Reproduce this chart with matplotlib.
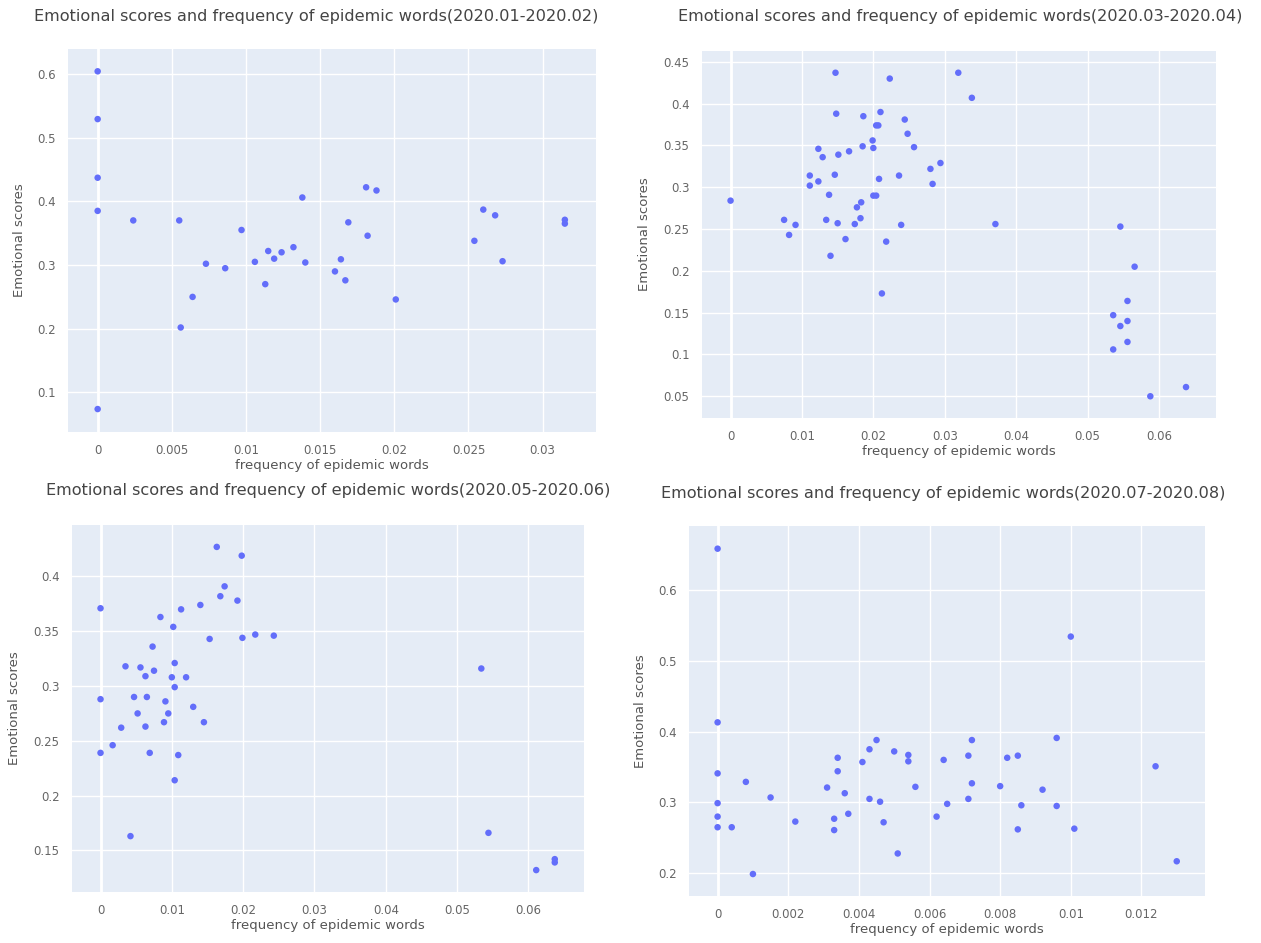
#!/usr/bin/env python
#+++ Imports
import matplotlib
matplotlib.use("Agg")
import matplotlib.pyplot as plt
from matplotlib.ticker import FuncFormatter
import numpy as np
#---

#+++ Data
titles = [
    "Emotional scores and frequency of epidemic words(2020.01-2020.02)",
    "Emotional scores and frequency of epidemic words(2020.03-2020.04)",
    "Emotional scores and frequency of epidemic words(2020.05-2020.06)",
    "Emotional scores and frequency of epidemic words(2020.07-2020.08)",
]

freq_jan_feb = [0, 0, 0, 0, 0, 0.0024, 0.0055, 0.0056, 0.0064, 0.0073, 0.0086, 0.0097,
                0.0106, 0.0113, 0.0115, 0.0119, 0.0124, 0.0132, 0.0138, 0.0140, 0.0181,
                0.0188, 0.0169, 0.0182, 0.0164, 0.0160, 0.0167, 0.0201, 0.0260, 0.0268,
                0.0254, 0.0273, 0.0315, 0.0315]
score_jan_feb = [0.604, 0.529, 0.437, 0.385, 0.074, 0.370, 0.370, 0.202, 0.250, 0.302, 0.295, 0.355,
                 0.305, 0.270, 0.322, 0.310, 0.320, 0.328, 0.406, 0.304, 0.422,
                 0.417, 0.367, 0.346, 0.309, 0.290, 0.276, 0.246, 0.387, 0.378,
                 0.338, 0.306, 0.371, 0.365]

freq_mar_apr = [0, 0.0075, 0.0082, 0.0091, 0.0111, 0.0111, 0.0123, 0.0123, 0.0129, 0.0138,
                0.0134, 0.0140, 0.0147, 0.0148, 0.0151, 0.0146, 0.0150, 0.0161, 0.0166, 0.0174,
                0.0177, 0.0183, 0.0182, 0.0186, 0.0185, 0.0199, 0.0200, 0.0200, 0.0204, 0.0204,
                0.0207, 0.0210, 0.0208, 0.0212, 0.0223, 0.0218, 0.0236, 0.0239, 0.0244, 0.0248,
                0.0257, 0.0280, 0.0283, 0.0294, 0.0319, 0.0338, 0.0371, 0.0546, 0.0566, 0.0556,
                0.0536, 0.0556, 0.0546, 0.0556, 0.0536, 0.0588, 0.0638]
score_mar_apr = [0.284, 0.261, 0.243, 0.255, 0.314, 0.302, 0.346, 0.307, 0.336, 0.291,
                 0.261, 0.218, 0.437, 0.388, 0.339, 0.315, 0.257, 0.238, 0.343, 0.256,
                 0.276, 0.282, 0.263, 0.385, 0.349, 0.356, 0.347, 0.290, 0.290, 0.374,
                 0.374, 0.390, 0.310, 0.173, 0.430, 0.235, 0.314, 0.255, 0.381, 0.364,
                 0.348, 0.322, 0.304, 0.329, 0.437, 0.407, 0.256, 0.253, 0.205, 0.164,
                 0.147, 0.140, 0.134, 0.115, 0.106, 0.050, 0.061]

freq_may_jun = [0.0163, 0.0198, 0.0174, 0.0168, 0.0192, 0.0140, 0.0113, 0, 0.0084, 0.0102,
                0.0153, 0.0199, 0.0217, 0.0243, 0.0073, 0.0035, 0.0056, 0.0104, 0.0063, 0.0075,
                0.0100, 0.0120, 0.0104, 0, 0.0047, 0.0065, 0.0091, 0.0130, 0.0052, 0.0095,
                0.0089, 0.0145, 0.0029, 0.0063, 0.0017, 0, 0.0069, 0.0109, 0.0104, 0.0042,
                0.0534, 0.0544, 0.0611, 0.0637, 0.0637]
score_may_jun = [0.427, 0.419, 0.391, 0.382, 0.378, 0.374, 0.370, 0.371, 0.363, 0.354,
                 0.343, 0.344, 0.347, 0.346, 0.336, 0.318, 0.317, 0.321, 0.309, 0.314,
                 0.308, 0.308, 0.299, 0.288, 0.290, 0.290, 0.286, 0.281, 0.275, 0.275,
                 0.267, 0.267, 0.262, 0.263, 0.246, 0.239, 0.239, 0.237, 0.214, 0.163,
                 0.316, 0.166, 0.132, 0.142, 0.139]

freq_jul_aug = [0, 0, 0, 0, 0, 0, 0.0004, 0.0008, 0.0010, 0.0015,
                0.0022, 0.0031, 0.0033, 0.0033, 0.0034, 0.0034, 0.0036, 0.0037, 0.0041, 0.0043,
                0.0043, 0.0045, 0.0046, 0.0047, 0.0050, 0.0051, 0.0054, 0.0054, 0.0056, 0.0062,
                0.0064, 0.0065, 0.0072, 0.0071, 0.0072, 0.0071, 0.0080, 0.0082, 0.0085, 0.0086,
                0.0085, 0.0092, 0.0096, 0.0096, 0.0100, 0.0101, 0.0124, 0.0130]
score_jul_aug = [0.658, 0.413, 0.341, 0.299, 0.280, 0.265, 0.265, 0.329, 0.199, 0.307,
                 0.273, 0.321, 0.277, 0.261, 0.344, 0.363, 0.313, 0.284, 0.357, 0.375,
                 0.305, 0.388, 0.301, 0.272, 0.372, 0.228, 0.367, 0.358, 0.322, 0.280,
                 0.360, 0.298, 0.388, 0.366, 0.327, 0.305, 0.323, 0.363, 0.366, 0.296,
                 0.262, 0.318, 0.391, 0.295, 0.534, 0.263, 0.351, 0.217]

x_ticks = [np.arange(0, 0.0301, 0.005), np.arange(0, 0.0601, 0.01),
           np.arange(0, 0.0601, 0.01), np.arange(0, 0.01201, 0.002)]
y_ticks = [np.arange(0.1, 0.601, 0.1), np.arange(0.05, 0.451, 0.05),
           np.arange(0.15, 0.401, 0.05), np.arange(0.2, 0.601, 0.1)]
x_ranges = [(-0.0020, 0.0336), (-0.0040, 0.0680), (-0.0040, 0.0678), (-0.00081, 0.0138)]
y_ranges = [(0.038, 0.639), (0.024, 0.463), (0.112, 0.447), (0.168, 0.690)]
#---

#+++ Layout (pixel boxes of the reference panels)
W, H = 1261, 943
panels = [  # left, right, top, bottom in pixels
    (68, 596, 49, 432),
    (702, 1216, 51, 418),
    (72, 584, 525, 892),
    (689, 1205, 526, 896),
]
title_pos = [(316, 16), (960, 16), (328, 490), (943, 493)]
xlabel_y = [465, 452, 925, 930]
ylabel_x = [20, 645, 15, 640]

bg = "#e5ecf6"
dot = "#636efa"
title_color = "#444444"
tick_color = "#666666"
label_color = "#555555"
#---

#+++ Plot
fig = plt.figure(figsize=(W / 100, H / 100), dpi=100)
series = [(freq_jan_feb, score_jan_feb), (freq_mar_apr, score_mar_apr),
          (freq_may_jun, score_may_jun), (freq_jul_aug, score_jul_aug)]

fmt = FuncFormatter(lambda v, _: "0" if abs(v) < 1e-12 else f"{v:g}")

for i, (xs, ys) in enumerate(series):
    l, r, t, b = panels[i]
    ax = fig.add_axes([l / W, 1 - b / H, (r - l) / W, (b - t) / H])
    ax.set_facecolor(bg)
    for s in ax.spines.values():
        s.set_visible(False)
    ax.set_xticks(x_ticks[i])
    ax.set_yticks(y_ticks[i])
    ax.set_xlim(*x_ranges[i])
    ax.set_ylim(*y_ranges[i])
    ax.xaxis.set_major_formatter(fmt)
    ax.yaxis.set_major_formatter(fmt)
    ax.grid(True, color="white", lw=1.0)
    ax.set_axisbelow(True)
    ax.axvline(0, color="white", lw=2.0, zorder=1)
    ax.tick_params(length=0, labelsize=8.5, labelcolor=tick_color, pad=9)
    ax.scatter(xs, ys, s=22, color=dot, edgecolors="none", zorder=3)

    tx, ty = title_pos[i]
    fig.text(tx / W, 1 - ty / H, titles[i], ha="center", va="center",
             fontsize=11.6, color=title_color)
    fig.text(((l + r) / 2) / W, 1 - xlabel_y[i] / H, "frequency of epidemic words",
             ha="center", va="center", fontsize=9.5, color=label_color)
    fig.text(ylabel_x[i] / W, 1 - ((t + b) / 2) / H, "Emotional scores",
             ha="center", va="center", rotation=90, fontsize=9.5, color=label_color)
#---

#+++ Save
fig.savefig("out.png", dpi=100, facecolor="white")
#---
